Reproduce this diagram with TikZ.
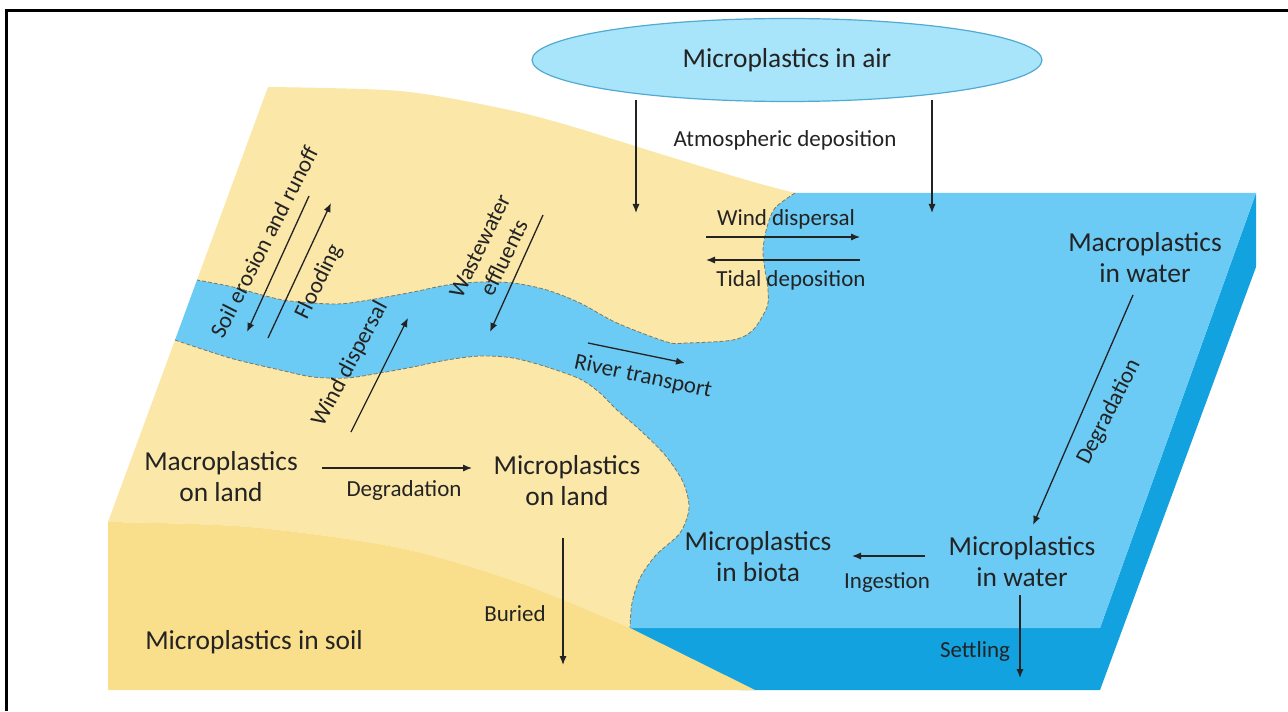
\documentclass[tikz,border=0pt]{standalone}
\usepackage{fontspec}
\setmainfont{Carlito}
\usepackage{tikz}
\usetikzlibrary{arrows.meta, shapes.geometric}
\definecolor{landtop}{RGB}{251,231,168}
\definecolor{soil}{RGB}{249,223,140}
\definecolor{waterlight}{RGB}{107,203,245}
\definecolor{waterdark}{RGB}{18,162,223}
\definecolor{airfill}{RGB}{168,228,250}
\definecolor{airedge}{RGB}{80,170,210}
\definecolor{ink}{RGB}{35,35,35}
\definecolor{shoreline}{RGB}{120,120,100}
\tikzset{flow/.style={-{Latex[length=4.5pt,width=3.6pt]}, line width=0.65pt, draw=ink},
  big/.style={text=ink, font=\fontsize{13.7}{15.5}\selectfont, align=center, inner sep=0pt},
  small/.style={text=ink, font=\fontsize{11.5}{13.5}\selectfont, align=center, inner sep=0pt},
  shore/.style={draw=shoreline, line width=0.4pt, dash pattern=on 2pt off 1pt},
  airbox/.style={ellipse, fill=airfill, draw=airedge, line width=0.6pt, minimum width=255pt, minimum height=41.5pt, inner sep=0pt}}
\newcommand{\farrow}[2]{\draw[flow] (#1) -- (#2);}

\begin{document}
\begin{tikzpicture}[x=0.5pt, y=-0.5pt]
\useasboundingbox (0,0) rectangle (1288,711);
% frame
\draw[line width=1.5pt] (6,711) -- (6,11) -- (1288,11);
% water
\fill[waterdark] (1256,193) -- (1256,267) -- (1100,690) -- (1100,628) -- cycle;
\fill[waterdark] (620,628) -- (1100,628) -- (1100,690) -- (740,690) -- cycle;
\fill[waterlight] (197,280) -- (795,193) -- (1256,193) -- (1100,628) -- (630,628) -- (600,440) -- (200,400) -- (175,340) -- cycle;
% land above the river
\fill[landtop] plot[smooth] coordinates {(268,87) (400,91) (500,108) (567,125) (667,156) (750,181) (795,193)}
  -- plot[smooth] coordinates {(795,193) (775,208) (767,227) (763,250) (765,270) (768,290) (767,307) (753,330) (733,340) (687,343) (667,342) (617,323) (580,303) (547,290) (513,283) (480,282) (447,285) (413,292) (363,301) (333,304) (283,300) (233,287) (197,280)} -- cycle;
\draw[shore] plot[smooth] coordinates {(795,193) (775,208) (767,227) (763,250) (765,270) (768,290) (767,307) (753,330) (733,340) (687,343) (667,342) (617,323) (580,303) (547,290) (513,283) (480,282) (447,285) (413,292) (363,301) (333,304) (283,300) (233,287) (197,280)};
% land below the river
\fill[landtop] plot[smooth] coordinates {(175,340) (230,358) (280,370) (313,377) (347,378) (380,373) (413,367) (447,360) (480,356) (513,358) (547,367) (580,379) (600,393) (617,410) (640,430) (665,455) (683,482) (689,508) (680,533) (656,555) (640,578) (632,603) (630,628)}
  -- plot[smooth] coordinates {(630,628) (520,583) (400,548) (250,527) (108,522)} -- cycle;
\draw[shore] plot[smooth] coordinates {(175,340) (230,358) (280,370) (313,377) (347,378) (380,373) (413,367) (447,360) (480,356) (513,358) (547,367) (580,379) (600,393) (617,410) (640,430) (665,455) (683,482) (689,508) (680,533) (656,555) (640,578) (632,603) (630,628)};
% soil
\fill[soil] plot[smooth] coordinates {(108,522) (250,527) (400,548) (520,583) (630,628)} -- (755,690) -- (108,690) -- cycle;
% air
\node[airbox, text=ink, font=\fontsize{13.7}{15.5}\selectfont] (air) at (787,60) {Microplastics in air};
\node[small] (atmo) at (785,140) {Atmospheric deposition};
\coordinate (atmL1) at (636,100); \coordinate (atmL2) at (636,213);
\coordinate (atmR1) at (932,100); \coordinate (atmR2) at (932,213);
\farrow{atmL1}{atmL2} \farrow{atmR1}{atmR2}
% coast
\node[small] (windsea) at (786,219) {Wind dispersal};
\node[small] (tidal) at (791,280) {Tidal deposition};
\coordinate (ws1) at (706,237); \coordinate (ws2) at (860,237);
\coordinate (td1) at (860,260); \coordinate (td2) at (706,260);
\farrow{ws1}{ws2} \farrow{td1}{td2}
% river
\node[small, rotate=63] (erosion) at (264,242) {Soil erosion and runoff};
\node[small, rotate=64] (flood) at (319,282) {Flooding};
\node[small, rotate=64] (waste) at (492,252) {Wastewater\\effluents};
\node[small, rotate=62] (windriv) at (350,364) {Wind dispersal};
\node[small, rotate=-12] (river) at (643,377) {River transport};
\coordinate (er1) at (309,196); \coordinate (er2) at (247,332);
\coordinate (fl1) at (268,338); \coordinate (fl2) at (331,203);
\coordinate (ww1) at (543,215); \coordinate (ww2) at (490,332);
\coordinate (wr1) at (351,432); \coordinate (wr2) at (408,318);
\coordinate (rt1) at (588,343); \coordinate (rt2) at (685,363);
\farrow{er1}{er2} \farrow{fl1}{fl2} \farrow{ww1}{ww2} \farrow{wr1}{wr2} \farrow{rt1}{rt2}
% land
\node[big] (macland) at (221,477) {Macroplastics\\on land};
\node[small] (degland) at (404,490) {Degradation};
\node[big] (micland) at (567,481) {Microplastics\\on land};
\node[small] (buried) at (515,614) {Buried};
\node[big] (micsoil) at (254,642) {Microplastics in soil};
\coordinate (dl1) at (322,468); \coordinate (dl2) at (472,468);
\coordinate (bu1) at (563,538); \coordinate (bu2) at (563,665);
\farrow{dl1}{dl2} \farrow{bu1}{bu2}
% sea
\node[big] (macwater) at (1145,258) {Macroplastics\\in water};
\node[small, rotate=63] (degwater) at (1109,412) {Degradation};
\node[big] (micwater) at (1022,562) {Microplastics\\in water};
\node[small] (ingest) at (887,583) {Ingestion};
\node[big] (micbiota) at (758,557) {Microplastics\\in biota};
\node[small] (settle) at (975,651) {Settling};
\coordinate (dw1) at (1133,295); \coordinate (dw2) at (1033,525);
\coordinate (in1) at (925,556); \coordinate (in2) at (852,556);
\coordinate (se1) at (1020,595); \coordinate (se2) at (1020,678);
\farrow{dw1}{dw2} \farrow{in1}{in2} \farrow{se1}{se2}
\end{tikzpicture}
\end{document}
